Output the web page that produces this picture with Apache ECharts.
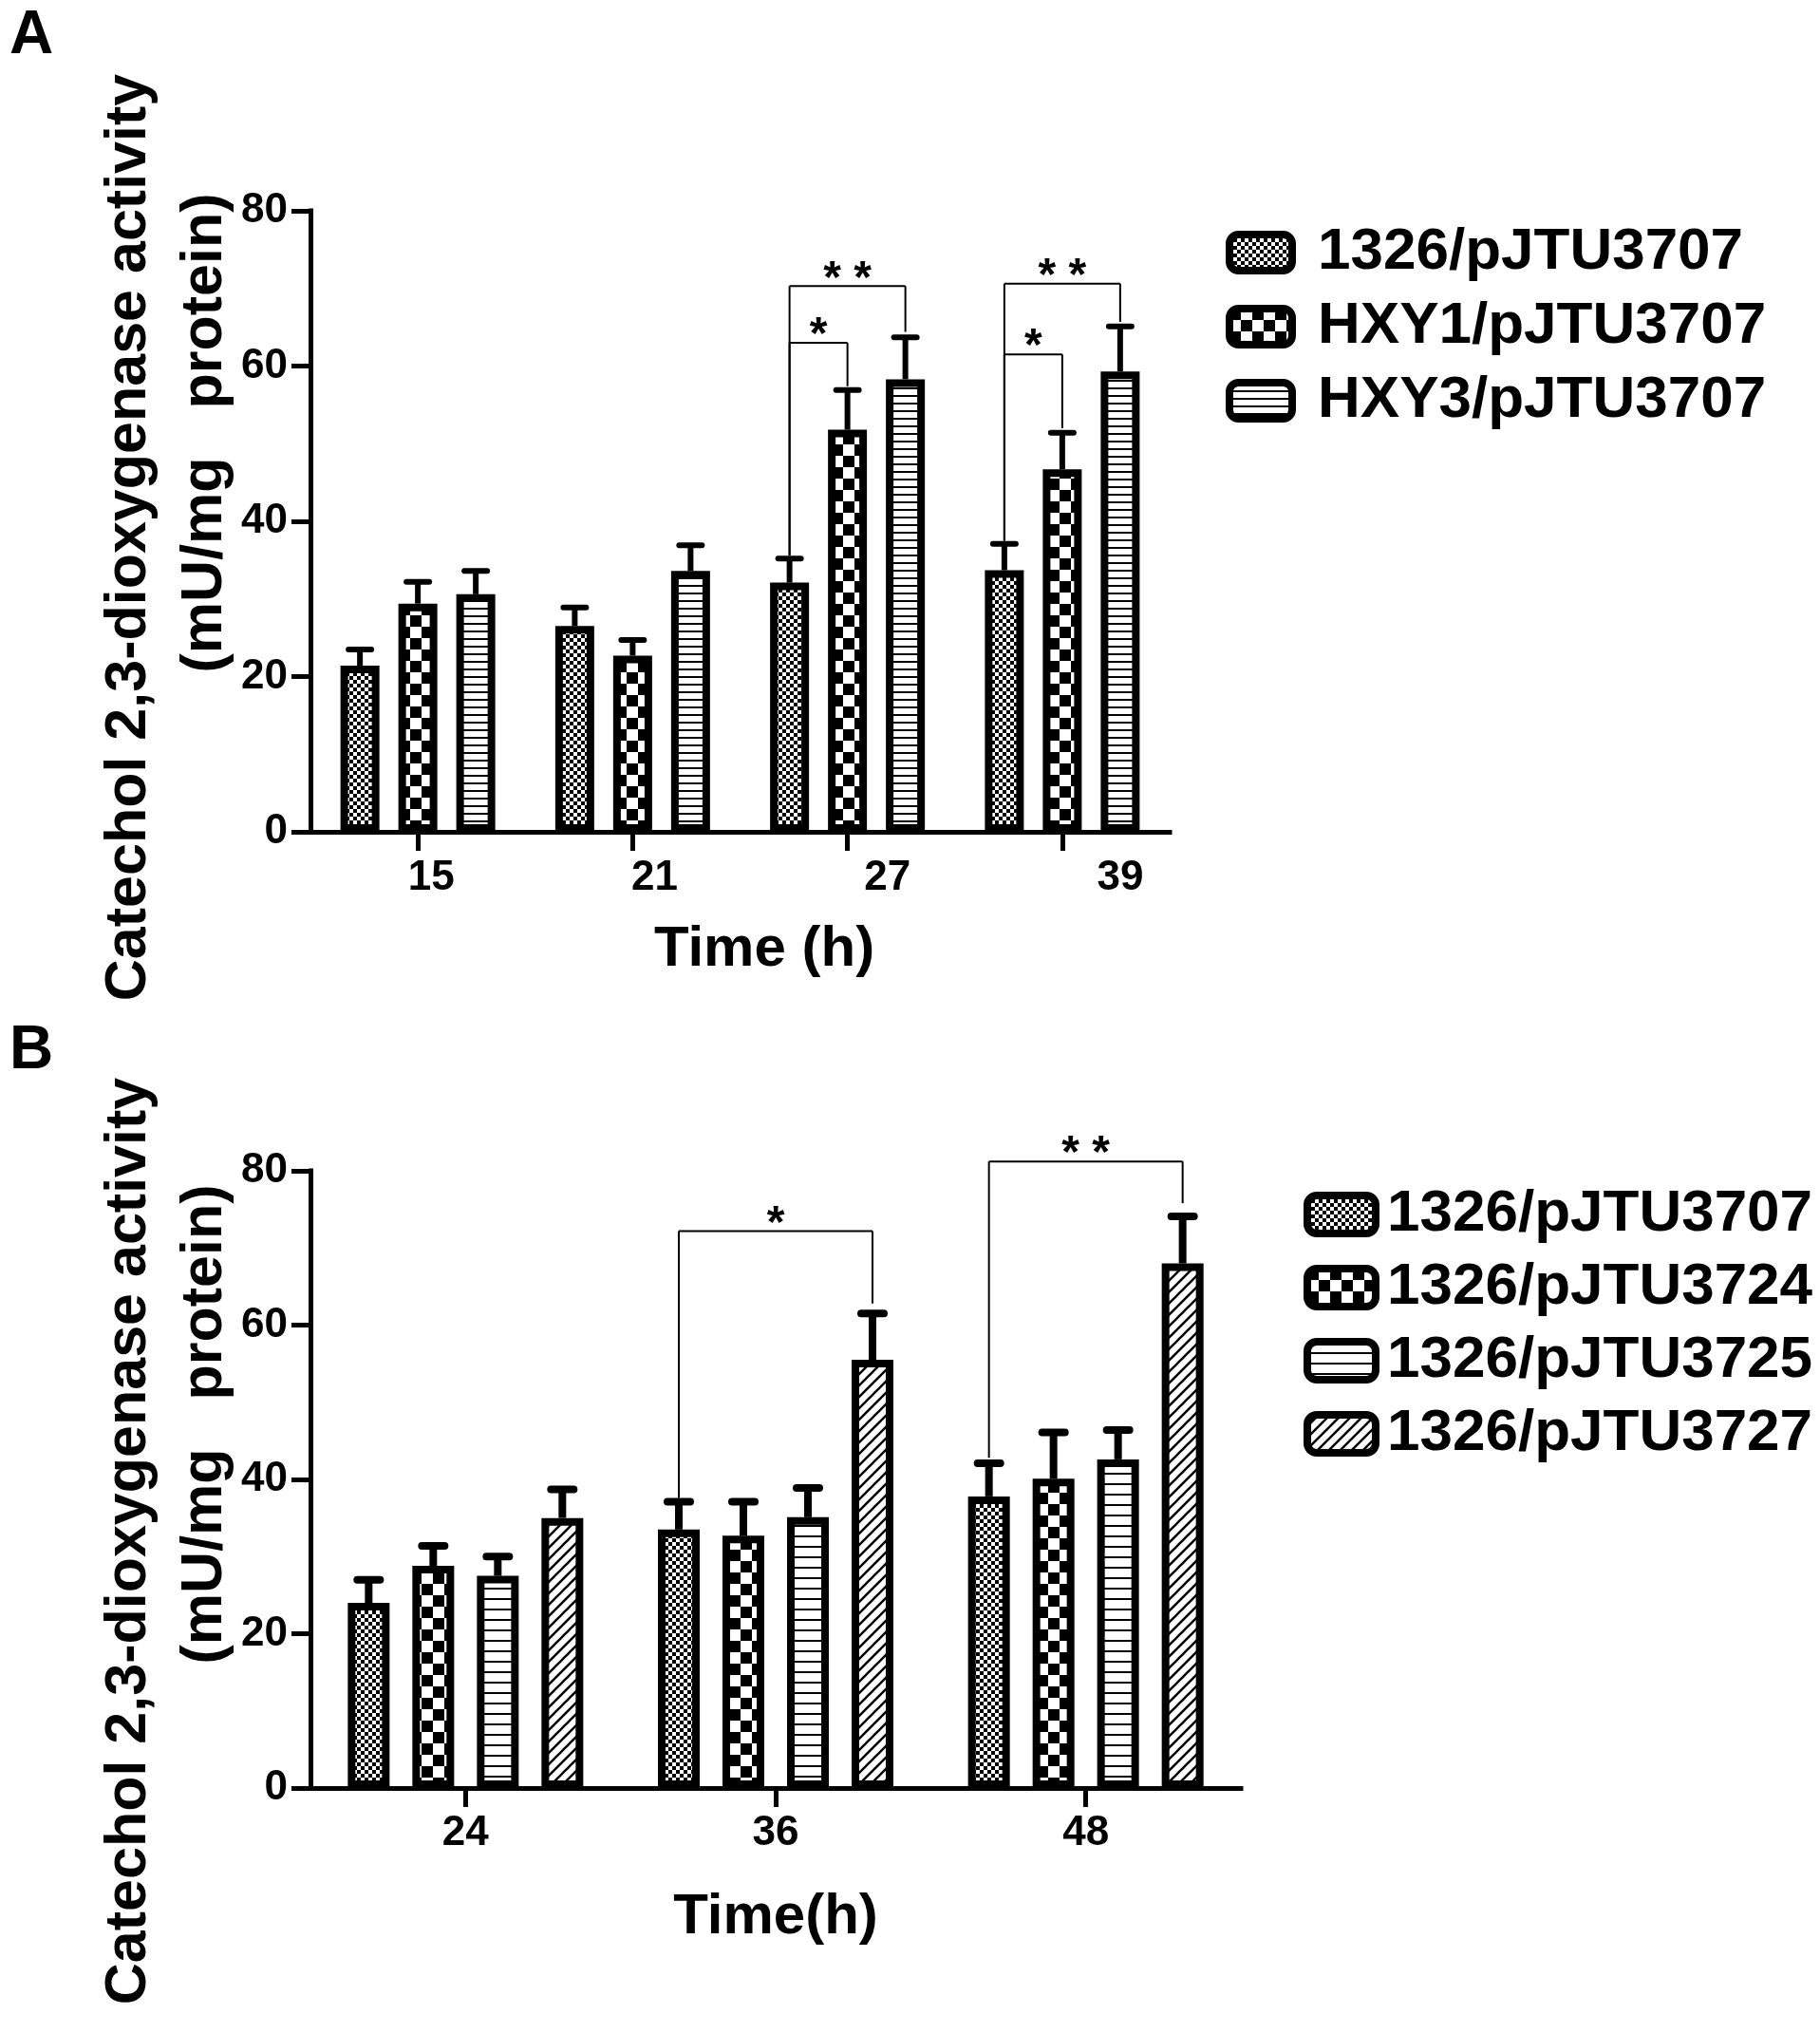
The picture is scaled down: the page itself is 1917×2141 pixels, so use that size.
<!DOCTYPE html>
<html>
<head>
<meta charset="utf-8">
<script src="https://cdn.jsdelivr.net/npm/echarts@6/dist/echarts.min.js"></script>
<style>
html,body{margin:0;padding:0;background:#fff;}
#chart{width:1917px;height:2141px;}
</style>
</head>
<body>
<div id="chart"></div>
<script>
// ---------- data ----------
const catsA = ['15', '21', '27', '39'];
const namesA = ['1326/pJTU3707', 'HXY1/pJTU3707', 'HXY3/pJTU3707'];
const meanA1 = [21.4, 26.5, 32.1, 33.7];
const meanA2 = [29.4, 22.7, 51.8, 46.7];
const meanA3 = [30.6, 33.6, 58.3, 59.3];
const errA1 = [2.1, 2.4, 3.1, 3.4];
const errA2 = [2.8, 2.0, 5.1, 4.7];
const errA3 = [3.0, 3.3, 5.4, 5.8];
// [category, fromBar, toBar, lineValue, leftLegEnd, rightLegEnd]
const bracketsA = [[2, 0, 2, 70.3, 35.6, 64.4], [2, 0, 1, 63.0, 35.6, 57.4], [3, 0, 2, 70.6, 37.5, 65.7], [3, 0, 1, 61.5, 37.5, 52.0]];
const bracketLabelsA = ['* *', '*', '* *', '*'];

const catsB = ['24', '36', '48'];
const namesB = ['1326/pJTU3707', '1326/pJTU3724', '1326/pJTU3725', '1326/pJTU3727'];
const meanB1 = [24.0, 33.5, 37.8];
const meanB2 = [28.8, 32.7, 40.1];
const meanB3 = [27.5, 35.1, 42.6];
const meanB4 = [35.0, 55.5, 68.0];
const errB1 = [3.0, 3.6, 4.3];
const errB2 = [2.6, 4.4, 6.0];
const errB3 = [2.5, 3.8, 3.8];
const errB4 = [3.7, 6.0, 6.1];
const bracketsB = [[1, 0, 3, 72.2, 37.6, 62.8], [2, 0, 3, 81.2, 42.8, 75.8]];
const bracketLabelsB = ['*', '* *'];

const yTicks = [0, 20, 40, 60, 80];

// ---------- patterns ----------
function mk(w, h, draw) {
  const c = document.createElement('canvas');
  c.width = w; c.height = h;
  const g = c.getContext('2d');
  g.fillStyle = '#fff'; g.fillRect(0, 0, w, h);
  g.fillStyle = '#000'; g.strokeStyle = '#000';
  draw(g, w, h);
  return { image: c, repeat: 'repeat' };
}
function checker(cell) {
  return mk(cell * 2, cell * 2, (g) => { g.fillRect(0, 0, cell, cell); g.fillRect(cell, cell, cell, cell); });
}
function stripes(period, lw) {
  return mk(period, period, (g, w) => { g.fillRect(0, 0, w, lw); });
}
function hatch(p, lw) {
  return mk(p, p, (g) => {
    g.lineWidth = lw;
    g.beginPath();
    g.moveTo(-2, p + 2); g.lineTo(p + 2, -2);
    g.moveTo(-2, 2); g.lineTo(2, -2);
    g.moveTo(p - 2, p + 2); g.lineTo(p + 2, p - 2);
    g.stroke();
  });
}
const patFine = checker(4);
const patBig = checker(12);
const patStripeA = stripes(8, 2);
const patStripeB = stripes(11, 2);
const patHatch = hatch(12, 2.5);

const FONT = 'Liberation Sans, Arial, sans-serif';
const BW_A = 41, GAP_A = 20;
const BW_B = 44, GAP_B = 24;

function barSeries(name, data, pat, xi, yi, bw, gap) {
  return {
    type: 'bar', name: name, data: data, xAxisIndex: xi, yAxisIndex: yi,
    barWidth: bw, barGap: (gap / bw * 100) + '%',
    itemStyle: { color: pat, borderColor: '#000', borderWidth: 8 },
    emphasis: { disabled: true }, z: 2
  };
}

function errorSeries(means, errs, xi, yi, bw, gap, stemW, capW) {
  const data = [];
  means.forEach((m, s) => m.forEach((v, c) => data.push([c, s, v, errs[s][c]])));
  const n = means.length;
  return {
    type: 'custom', xAxisIndex: xi, yAxisIndex: yi, data: data, clip: false, z: 5,
    encode: { x: 0, y: 2 }, silent: true,
    renderItem: function (params, api) {
      const c = api.value(0), s = api.value(1), v = api.value(2), e = api.value(3);
      const p0 = api.coord([c, v]);
      const p1 = api.coord([c, v + e]);
      const x = p0[0] + (s - (n - 1) / 2) * (bw + gap);
      return {
        type: 'group', children: [
          { type: 'line', shape: { x1: x, y1: p0[1], x2: x, y2: p1[1] }, style: { stroke: '#000', lineWidth: stemW } },
          { type: 'line', shape: { x1: x - capW / 2, y1: p1[1], x2: x + capW / 2, y2: p1[1] }, style: { stroke: '#000', lineWidth: stemW, lineCap: 'round' } }
        ]
      };
    }
  };
}

function bracketSeries(br, labels, n, xi, yi, bw, gap) {
  return {
    type: 'custom', xAxisIndex: xi, yAxisIndex: yi, data: br, clip: false, z: 6,
    encode: { x: 0, y: 3 }, silent: true,
    renderItem: function (params, api) {
      const c = api.value(0), f = api.value(1), t = api.value(2);
      const yl = api.coord([c, api.value(3)])[1];
      const yle = api.coord([c, api.value(4)])[1];
      const yre = api.coord([c, api.value(5)])[1];
      const cx = api.coord([c, 0])[0];
      const xl = cx + (f - (n - 1) / 2) * (bw + gap);
      const xr = cx + (t - (n - 1) / 2) * (bw + gap);
      const st = { stroke: '#000', lineWidth: 2 };
      return {
        type: 'group', children: [
          { type: 'line', shape: { x1: xl, y1: yl, x2: xr, y2: yl }, style: st },
          { type: 'line', shape: { x1: xl, y1: yl, x2: xl, y2: yle }, style: st },
          { type: 'line', shape: { x1: xr, y1: yl, x2: xr, y2: yre }, style: st },
          { type: 'text', x: (xl + xr) / 2, y: yl - 7, style: { text: labels[params.dataIndex], fill: '#000', fontSize: 48, fontWeight: 'bold', fontFamily: FONT, align: 'center', verticalAlign: 'middle' } }
        ]
      };
    }
  };
}

const axisLine = { show: true, lineStyle: { color: '#000', width: 5, cap: 'square' } };
const axisTick = { show: true, length: 20, lineStyle: { color: '#000', width: 5 } };
const lblStyle = { color: '#000', fontSize: 44, fontWeight: 'bold', fontFamily: FONT };

const labelShiftA = [28, 46, 84, 122];
const richA = {};
labelShiftA.forEach((p, i) => { richA['p' + i] = Object.assign({ padding: [0, 0, 0, p] }, lblStyle); });

const nameStyle = { color: '#000', fontSize: 61, fontWeight: 'bold', fontFamily: FONT, lineHeight: 80 };
function yName(padA, padB) {
  return {
    name: '{a|Catechol 2,3-dioxygenase activity}\n{b|(mU/mg   protein)}',
    nameLocation: 'middle', nameGap: 71, nameMoveOverlap: false,
    nameTextStyle: Object.assign({}, nameStyle, {
      rich: {
        a: Object.assign({ padding: [0, padA, 0, 0] }, nameStyle),
        b: Object.assign({ padding: [0, 0, 0, padB] }, nameStyle)
      }
    })
  };
}

const option = {
  animation: false,
  backgroundColor: '#fff',
  title: [
    { text: 'A', left: 10, top: 6, padding: 0, textStyle: { fontSize: 64, fontWeight: 'bold', fontFamily: FONT, color: '#000' } },
    { text: 'B', left: 10, top: 1075, padding: 0, textStyle: { fontSize: 64, fontWeight: 'bold', fontFamily: FONT, color: '#000' } }
  ],
  legend: [
    {
      data: namesA, orient: 'vertical', left: 1291, top: 235, padding: 0, itemGap: 16,
      itemWidth: 66, itemHeight: 38, icon: 'roundRect', selectedMode: false,
      itemStyle: { borderColor: '#000', borderWidth: 8 },
      textStyle: { color: '#000', fontSize: 62, fontWeight: 'bold', fontFamily: FONT, lineHeight: 60, padding: [0, 0, 0, 22] }
    },
    {
      data: namesB, orient: 'vertical', left: 1373, top: 1248, padding: 0, itemGap: 15,
      itemWidth: 72, itemHeight: 40, icon: 'roundRect', selectedMode: false,
      itemStyle: { borderColor: '#000', borderWidth: 8 },
      textStyle: { color: '#000', fontSize: 62, fontWeight: 'bold', fontFamily: FONT, lineHeight: 60, padding: [0, 0, 0, 7] }
    }
  ],
  grid: [
    { left: 327, right: 1917 - 1232, top: 222, bottom: 2141 - 876, outerBoundsMode: 'none', containLabel: false },
    { left: 327, right: 1917 - 1307, top: 1233, bottom: 2141 - 1883, outerBoundsMode: 'none', containLabel: false }
  ],
  xAxis: [
    {
      type: 'category', gridIndex: 0, data: catsA,
      axisLine: axisLine, axisTick: Object.assign({ alignWithLabel: true }, axisTick),
      axisLabel: Object.assign({ margin: 27, formatter: (v, i) => '{p' + i + '|' + v + '}', rich: richA }, lblStyle),
      name: 'Time (h)', nameLocation: 'middle', nameGap: 94, nameMoveOverlap: false,
      nameTextStyle: { color: '#000', fontSize: 60, fontWeight: 'bold', fontFamily: FONT, lineHeight: 60, padding: [0, 0, 0, 51] },
      splitLine: { show: false }
    },
    {
      type: 'category', gridIndex: 1, data: catsB,
      axisLine: axisLine, axisTick: Object.assign({ alignWithLabel: true }, axisTick),
      axisLabel: Object.assign({ margin: 26 }, lblStyle),
      name: 'Time(h)', nameLocation: 'middle', nameGap: 106, nameMoveOverlap: false,
      nameTextStyle: { color: '#000', fontSize: 60, fontWeight: 'bold', fontFamily: FONT, lineHeight: 60 },
      splitLine: { show: false }
    }
  ],
  yAxis: [
    Object.assign({
      type: 'value', gridIndex: 0, min: yTicks[0], max: yTicks[yTicks.length - 1], interval: yTicks[1] - yTicks[0],
      axisLine: axisLine, axisTick: axisTick, axisLabel: Object.assign({ margin: 24 }, lblStyle), splitLine: { show: false }
    }, yName(34, 186)),
    Object.assign({
      type: 'value', gridIndex: 1, min: yTicks[0], max: yTicks[yTicks.length - 1], interval: yTicks[1] - yTicks[0],
      axisLine: axisLine, axisTick: axisTick, axisLabel: Object.assign({ margin: 24 }, lblStyle), splitLine: { show: false }
    }, yName(130, 116))
  ],
  series: [
    barSeries(namesA[0], meanA1, patFine, 0, 0, BW_A, GAP_A),
    barSeries(namesA[1], meanA2, patBig, 0, 0, BW_A, GAP_A),
    barSeries(namesA[2], meanA3, patStripeA, 0, 0, BW_A, GAP_A),
    errorSeries([meanA1, meanA2, meanA3], [errA1, errA2, errA3], 0, 0, BW_A, GAP_A, 6, 24),
    bracketSeries(bracketsA, bracketLabelsA, 3, 0, 0, BW_A, GAP_A),
    barSeries(namesB[0], meanB1, patFine, 1, 1, BW_B, GAP_B),
    barSeries(namesB[1], meanB2, patBig, 1, 1, BW_B, GAP_B),
    barSeries(namesB[2], meanB3, patStripeB, 1, 1, BW_B, GAP_B),
    barSeries(namesB[3], meanB4, patHatch, 1, 1, BW_B, GAP_B),
    errorSeries([meanB1, meanB2, meanB3, meanB4], [errB1, errB2, errB3, errB4], 1, 1, BW_B, GAP_B, 8, 24),
    bracketSeries(bracketsB, bracketLabelsB, 4, 1, 1, BW_B, GAP_B)
  ]
};

const chart = echarts.init(document.getElementById('chart'), null, { renderer: 'canvas' });
chart.setOption(option);
</script>
</body>
</html>
